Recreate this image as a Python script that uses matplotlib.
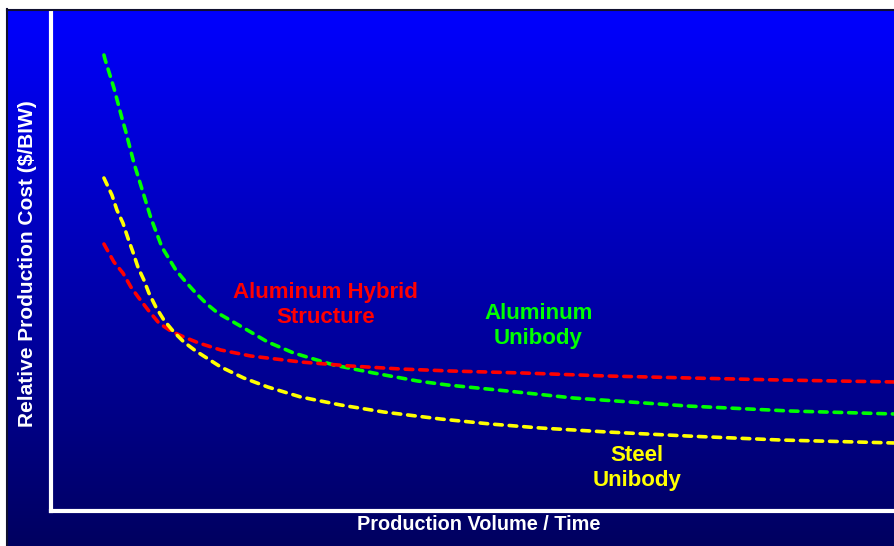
import numpy as np
import matplotlib
matplotlib.use("Agg")
import matplotlib.pyplot as plt
from matplotlib.colors import LinearSegmentedColormap

plt.rcParams['font.family'] = ['Liberation Sans', 'DejaVu Sans']
plt.rcParams['lines.scale_dashes'] = False

# Relative units (volume 0-845, cost 0-501)
green_x = [53, 54, 63, 71, 75, 83, 92, 100, 111, 125, 135, 145, 156, 167, 193, 217, 243, 283, 323, 367, 397, 457, 523, 637, 740, 845]
green_y = [456, 452, 423, 393, 379, 348, 319, 293, 264, 241, 229, 218, 207, 198, 183, 169, 158, 146, 138, 130, 126, 120, 113, 105, 100, 97]

red_x = [53, 63, 72, 80, 88, 98, 108, 120, 133, 148, 170, 200, 250, 300, 350, 400, 473, 557, 640, 730, 845]
red_y = [267, 249, 238, 224, 213, 200, 188, 180, 174, 168, 161, 155, 149, 145, 142, 140, 138, 135, 133, 131, 129]

yellow_x = [53, 61, 66, 72, 77, 82, 87, 93, 98, 105, 113, 123, 133, 145, 170, 193, 217, 250, 290, 333, 390, 440, 490, 557, 637, 730, 845]
yellow_y = [333, 316, 301, 288, 273, 259, 244, 231, 218, 204, 191, 179, 169, 160, 144, 133, 124, 114, 106, 99, 92, 87, 83, 79, 75, 71, 68]

series_labels = ["Aluminum Hybrid\nStructure", "Aluminum\nUnibody", "Steel\nUnibody"]
x_label = "Production Volume / Time"
y_label = "Relative Production Cost ($/BIW)"

W, H = 895, 546
fig = plt.figure(figsize=(W / 100, H / 100), dpi=100)
fig.patch.set_facecolor('white')

# background gradient panel
bg = fig.add_axes([7 / W, 0, (W - 7) / W, (H - 9) / H])
cmap = LinearSegmentedColormap.from_list('bg', ['#000060', '#0000ff'])
grad = np.linspace(0, 1, 256).reshape(-1, 1)
bg.imshow(grad, aspect='auto', cmap=cmap, origin='lower', extent=[0, 1, 0, 1])
bg.set_xlim(0, 1)
bg.set_ylim(0, 1)
bg.set_axis_off()
# dark border on top and left
fig.add_artist(plt.Line2D([7 / W, 1], [1 - 9.5 / H, 1 - 9.5 / H], color='#101030', lw=1.5, transform=fig.transFigure))
fig.add_artist(plt.Line2D([7.5 / W, 7.5 / W], [0, 1 - 9 / H], color='#101030', lw=1.5, transform=fig.transFigure))

ax = fig.add_axes([51 / W, (H - 511) / H, (W - 51) / W, (511 - 10) / H])
ax.set_facecolor('none')
ax.set_xlim(0, 845)
ax.set_ylim(0, 501)
for s in ['top', 'right']:
    ax.spines[s].set_visible(False)
for s in ['left', 'bottom']:
    ax.spines[s].set_color('white')
    ax.spines[s].set_linewidth(3)
ax.set_xticks([])
ax.set_yticks([])

dash = (5.5, 5.0)
lkw = dict(lw=2.6, dashes=dash, dash_capstyle='round', solid_joinstyle='round')
ax.plot(green_x, green_y, color='#00ff00', **lkw)
ax.plot(red_x, red_y, color='#ff0000', **lkw)
ax.plot(yellow_x, yellow_y, color='#ffff00', **lkw)

tkw = dict(fontsize=16, fontweight='bold', ha='center', va='center', multialignment='center', linespacing=1.25)
ax.text(275, 206, series_labels[0], color='#ff0000', **tkw)
ax.text(488, 185, series_labels[1], color='#00ff00', **tkw)
ax.text(587, 43, series_labels[2], color='#ffff00', **tkw)

fig.text(479 / W, 1 - 525 / H, x_label, color='white', fontsize=14.3, fontweight='bold', ha='center', va='center')
fig.text(28 / W, 1 - 264 / H, y_label, color='white', fontsize=15, fontweight='bold', ha='center', va='center', rotation=90)

fig.savefig('out.png', dpi=100)
